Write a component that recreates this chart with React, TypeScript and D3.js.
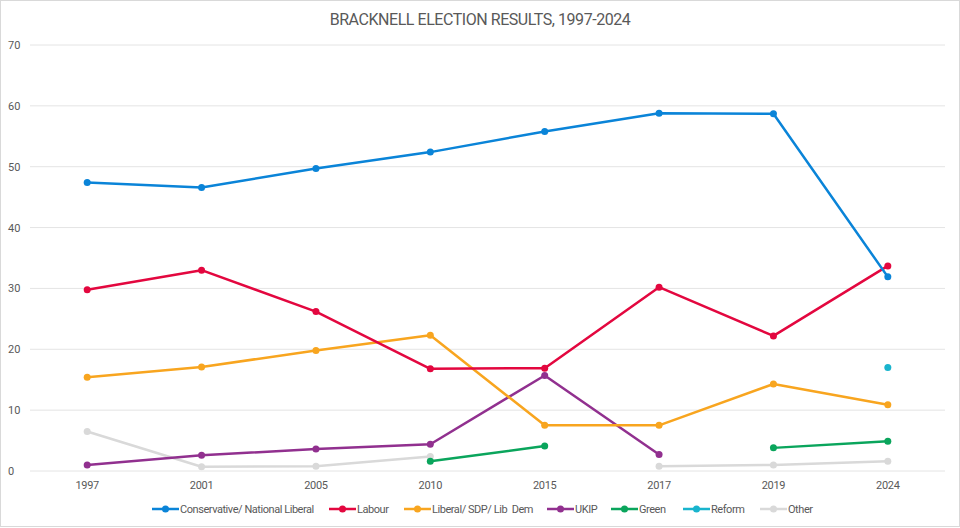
import * as d3 from "d3";
import { useRef, useEffect } from "react";

const years = ["1997", "2001", "2005", "2010", "2015", "2017", "2019", "2024"];

const conservative = [47.4, 46.6, 49.7, 52.4, 55.8, 58.8, 58.7, 31.9];
const labour = [29.8, 33.0, 26.2, 16.8, 16.9, 30.2, 22.2, 33.7];
const libDem = [15.4, 17.1, 19.8, 22.3, 7.5, 7.5, 14.3, 10.9];
const ukip = [1.0, 2.6, 3.6, 4.4, 15.7, 2.7, null, null];
const green = [null, null, null, 1.6, 4.1, null, 3.8, 4.9];
const reform = [null, null, null, null, null, null, null, 17.0];
const other = [6.5, 0.7, 0.8, 2.4, null, 0.8, 1.0, 1.6];

const yTicks = [0, 10, 20, 30, 40, 50, 60, 70];

const series = [
  { name: "Conservative/ National Liberal", values: conservative, color: "#0a84d8" },
  { name: "Labour", values: labour, color: "#e3073f" },
  { name: "Liberal/ SDP/ Lib  Dem", values: libDem, color: "#f8a51f" },
  { name: "UKIP", values: ukip, color: "#91308f" },
  { name: "Green", values: green, color: "#0aa55c" },
  { name: "Reform", values: reform, color: "#19b4cd" },
  { name: "Other", values: other, color: "#d9d9d9" },
];

const legendX = [152, 329, 404, 547, 611, 683, 760];

export default function App({
  width = 960,
  height = 528,
  marginTop = 45,
  marginRight = 15,
  marginBottom = 57,
  marginLeft = 30,
}) {
  const svgRef = useRef(null);

  useEffect(() => {
    const svg = d3.select(svgRef.current);
    svg.selectAll("*").remove();

    const font = "Roboto, 'Open Sans', sans-serif";

    const x = d3.scalePoint()
      .domain(years)
      .range([marginLeft, width - marginRight])
      .padding(0.5);

    const y = d3.scaleLinear()
      .domain([0, 70])
      .range([height - marginBottom, marginTop]);

    svg
      .attr("width", width)
      .attr("height", height)
      .attr("viewBox", [0, 0, width, height]);

    svg.append("rect")
      .attr("x", 0.5)
      .attr("y", 0.5)
      .attr("width", width - 1)
      .attr("height", height - 2)
      .attr("fill", "white")
      .attr("stroke", "#d9d9d9");

    svg.append("text")
      .attr("x", width / 2)
      .attr("y", 25)
      .attr("text-anchor", "middle")
      .attr("font-family", font)
      .attr("font-size", 16)
      .attr("letter-spacing", -0.45)
      .attr("fill", "#595959")
      .text("BRACKNELL ELECTION RESULTS, 1997-2024");

    svg.append("g")
      .attr("class", "grid")
      .selectAll("line")
      .data(yTicks)
      .join("line")
        .attr("x1", marginLeft)
        .attr("x2", width - marginRight)
        .attr("y1", (d) => y(d))
        .attr("y2", (d) => y(d))
        .attr("stroke", "#e4e4e4")
        .attr("stroke-width", 1);

    svg.append("g")
      .attr("class", "yaxis")
      .selectAll("text")
      .data(yTicks)
      .join("text")
        .attr("x", 8)
        .attr("y", (d) => y(d) + 4)
        .attr("font-family", font)
        .attr("font-size", 11)
        .attr("fill", "#595959")
        .text((d) => d);

    svg.append("g")
      .attr("class", "xaxis")
      .selectAll("text")
      .data(years)
      .join("text")
        .attr("x", (d) => x(d))
        .attr("y", 489)
        .attr("text-anchor", "middle")
        .attr("font-family", font)
        .attr("font-size", 11)
        .attr("letter-spacing", -0.3)
        .attr("fill", "#595959")
        .text((d) => d);

    const line = d3.line<number | null>()
      .defined((d) => d != null)
      .x((d, i) => x(years[i]))
      .y((d) => y(d as number));

    // draw back-to-front so Conservative sits on top like the original
    const lines = svg.append("g").attr("class", "lines");
    [...series].reverse().forEach((s) => {
      lines.append("path")
        .attr("d", line(s.values))
        .attr("fill", "none")
        .attr("stroke", s.color)
        .attr("stroke-width", 2.5)
        .attr("stroke-linejoin", "round");

      lines.append("g")
        .selectAll("circle")
        .data(s.values.map((v, i) => ({ v, year: years[i] })).filter((d) => d.v != null))
        .join("circle")
          .attr("cx", (d) => x(d.year))
          .attr("cy", (d) => y(d.v as number))
          .attr("r", 3.5)
          .attr("fill", s.color);
    });

    const legend = svg.append("g")
      .attr("class", "legend")
      .selectAll("g")
      .data(series)
      .join("g")
        .attr("transform", (d, i) => `translate(${legendX[i]},509)`);

    legend.append("line")
      .attr("x1", 0)
      .attr("x2", 27)
      .attr("stroke", (d) => d.color)
      .attr("stroke-width", 2.5);

    legend.append("circle")
      .attr("cx", 13.5)
      .attr("r", 3.5)
      .attr("fill", (d) => d.color);

    legend.append("text")
      .attr("x", 28)
      .attr("y", 4)
      .attr("font-family", font)
      .attr("font-size", 11)
      .attr("letter-spacing", -0.45)
      .attr("fill", "#595959")
      .style("white-space", "pre")
      .text((d) => d.name);
  }, []);

  return (
    <div style={{ position: "absolute", left: 0, top: 0 }}>
      <svg ref={svgRef} style={{ display: "block" }} />
    </div>
  );
}
